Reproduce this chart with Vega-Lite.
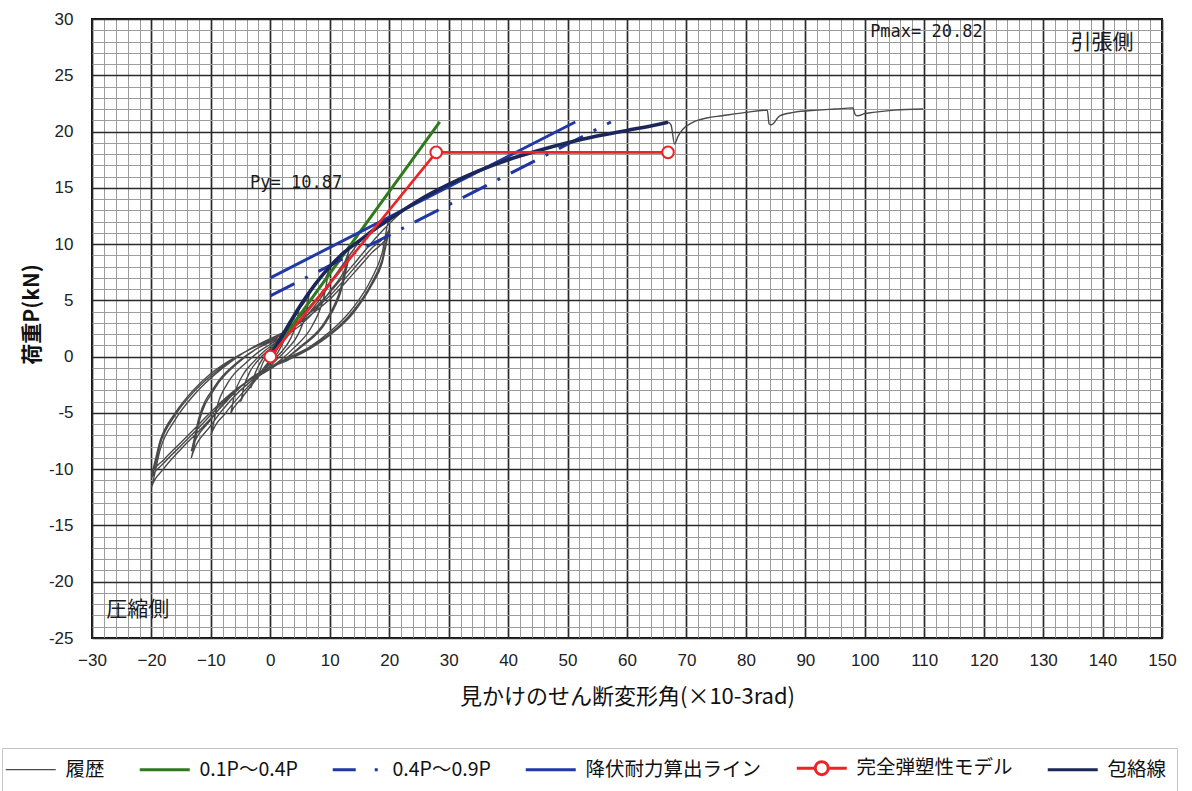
{
  "$schema": "https://vega.github.io/schema/vega-lite/v6.json",
  "autosize": {"type": "none"},
  "width": 1070,
  "height": 619,
  "padding": {"left": 92, "top": 19, "right": 30, "bottom": 153},
  "background": "white",
  "config": {
    "view": {"stroke": "#111", "strokeWidth": 2},
    "font": "Liberation Sans"
  },
  "data": {
    "values": [
      {"s": "履歴", "x": 0, "y": 0}, {"s": "履歴", "x": 1.1, "y": 1.2}, {"s": "履歴", "x": 2.2, "y": 2.3}, {"s": "履歴", "x": 1.6, "y": 1.2}, {"s": "履歴", "x": 0.8, "y": 0.3}, {"s": "履歴", "x": 0, "y": -0.3}, {"s": "履歴", "x": -1.1, "y": -1.0}, {"s": "履歴", "x": -2.2, "y": -2.0}, {"s": "履歴", "x": -1.6, "y": -1.0}, {"s": "履歴", "x": -0.8, "y": -0.1}, {"s": "履歴", "x": 0, "y": 0.4},
      {"s": "履歴", "x": 1.6, "y": 1.7}, {"s": "履歴", "x": 3.3, "y": 3.2}, {"s": "履歴", "x": 2.5, "y": 1.7}, {"s": "履歴", "x": 1.3, "y": 0.4}, {"s": "履歴", "x": 0, "y": -0.4}, {"s": "履歴", "x": -1.6, "y": -1.4}, {"s": "履歴", "x": -3.3, "y": -2.8}, {"s": "履歴", "x": -2.5, "y": -1.4}, {"s": "履歴", "x": -1.3, "y": -0.2}, {"s": "履歴", "x": 0, "y": 0.5},
      {"s": "履歴", "x": 1.3, "y": 1.3}, {"s": "履歴", "x": 2.5, "y": 2.4}, {"s": "履歴", "x": 3.8, "y": 3.5}, {"s": "履歴", "x": 5, "y": 4.6}, {"s": "履歴", "x": 4.4, "y": 3.0}, {"s": "履歴", "x": 3.4, "y": 1.6}, {"s": "履歴", "x": 2, "y": 0.5}, {"s": "履歴", "x": 0.7, "y": -0.2}, {"s": "履歴", "x": 0, "y": -0.6}, {"s": "履歴", "x": -1.3, "y": -1.3}, {"s": "履歴", "x": -2.5, "y": -2.1}, {"s": "履歴", "x": -3.8, "y": -3.0}, {"s": "履歴", "x": -5, "y": -4.0}, {"s": "履歴", "x": -4.4, "y": -2.6}, {"s": "履歴", "x": -3.4, "y": -1.3}, {"s": "履歴", "x": -2, "y": -0.3}, {"s": "履歴", "x": -0.7, "y": 0.4}, {"s": "履歴", "x": 0, "y": 0.7},
      {"s": "履歴", "x": 1.7, "y": 1.6}, {"s": "履歴", "x": 3.4, "y": 2.9}, {"s": "履歴", "x": 5, "y": 4.3}, {"s": "履歴", "x": 6.7, "y": 5.9}, {"s": "履歴", "x": 6, "y": 3.9}, {"s": "履歴", "x": 4.7, "y": 2.0}, {"s": "履歴", "x": 2.7, "y": 0.6}, {"s": "履歴", "x": 1, "y": -0.3}, {"s": "履歴", "x": 0, "y": -0.8}, {"s": "履歴", "x": -1.7, "y": -1.6}, {"s": "履歴", "x": -3.4, "y": -2.7}, {"s": "履歴", "x": -5, "y": -3.8}, {"s": "履歴", "x": -6.7, "y": -5.1}, {"s": "履歴", "x": -6, "y": -3.3}, {"s": "履歴", "x": -4.7, "y": -1.7}, {"s": "履歴", "x": -2.7, "y": -0.4}, {"s": "履歴", "x": -1, "y": 0.5}, {"s": "履歴", "x": 0, "y": 0.9},
      {"s": "履歴", "x": 2.5, "y": 2.0}, {"s": "履歴", "x": 5, "y": 3.6}, {"s": "履歴", "x": 7.5, "y": 5.6}, {"s": "履歴", "x": 10, "y": 8.0}, {"s": "履歴", "x": 9, "y": 5.3}, {"s": "履歴", "x": 7, "y": 2.7}, {"s": "履歴", "x": 4, "y": 0.8}, {"s": "履歴", "x": 1.5, "y": -0.4}, {"s": "履歴", "x": 0, "y": -1.0}, {"s": "履歴", "x": -2.5, "y": -2.0}, {"s": "履歴", "x": -5, "y": -3.4}, {"s": "履歴", "x": -7.5, "y": -5.0}, {"s": "履歴", "x": -10, "y": -7.0}, {"s": "履歴", "x": -9, "y": -4.5}, {"s": "履歴", "x": -7, "y": -2.2}, {"s": "履歴", "x": -4, "y": -0.5}, {"s": "履歴", "x": -1.5, "y": 0.6}, {"s": "履歴", "x": 0, "y": 1.1},
      {"s": "履歴", "x": 3.3, "y": 2.3}, {"s": "履歴", "x": 6.7, "y": 4.0}, {"s": "履歴", "x": 10, "y": 6.4}, {"s": "履歴", "x": 13.3, "y": 9.6}, {"s": "履歴", "x": 12, "y": 6.4}, {"s": "履歴", "x": 9.3, "y": 3.2}, {"s": "履歴", "x": 5.3, "y": 1.0}, {"s": "履歴", "x": 2, "y": -0.4}, {"s": "履歴", "x": 0, "y": -1.1}, {"s": "履歴", "x": -3.3, "y": -2.2}, {"s": "履歴", "x": -6.7, "y": -3.9}, {"s": "履歴", "x": -10, "y": -6.1}, {"s": "履歴", "x": -13.3, "y": -9.0}, {"s": "履歴", "x": -12, "y": -5.8}, {"s": "履歴", "x": -9.3, "y": -2.8}, {"s": "履歴", "x": -5.3, "y": -0.5}, {"s": "履歴", "x": -2, "y": 0.8}, {"s": "履歴", "x": 0, "y": 1.3},
      {"s": "履歴", "x": 3.3, "y": 2.1}, {"s": "履歴", "x": 6.7, "y": 3.6}, {"s": "履歴", "x": 10, "y": 5.8}, {"s": "履歴", "x": 13.3, "y": 8.9}, {"s": "履歴", "x": 12, "y": 6.0}, {"s": "履歴", "x": 9.3, "y": 3.0}, {"s": "履歴", "x": 5.3, "y": 0.9}, {"s": "履歴", "x": 2, "y": -0.4}, {"s": "履歴", "x": 0, "y": -1.1}, {"s": "履歴", "x": -3.3, "y": -2.0}, {"s": "履歴", "x": -6.7, "y": -3.5}, {"s": "履歴", "x": -10, "y": -5.6}, {"s": "履歴", "x": -13.3, "y": -8.4}, {"s": "履歴", "x": -12, "y": -5.4}, {"s": "履歴", "x": -9.3, "y": -2.6}, {"s": "履歴", "x": -5.3, "y": -0.4}, {"s": "履歴", "x": -2, "y": 0.8}, {"s": "履歴", "x": 0, "y": 1.3},
      {"s": "履歴", "x": 3, "y": 2.5}, {"s": "履歴", "x": 6, "y": 4.1}, {"s": "履歴", "x": 10, "y": 6.6}, {"s": "履歴", "x": 13.3, "y": 9.0}, {"s": "履歴", "x": 15, "y": 10.2}, {"s": "履歴", "x": 17.5, "y": 11.3}, {"s": "履歴", "x": 20, "y": 12.2}, {"s": "履歴", "x": 18.8, "y": 9.2}, {"s": "履歴", "x": 17, "y": 6.9}, {"s": "履歴", "x": 14, "y": 4.4}, {"s": "履歴", "x": 10, "y": 2.2}, {"s": "履歴", "x": 6.7, "y": 0.9}, {"s": "履歴", "x": 3, "y": -0.1}, {"s": "履歴", "x": 0, "y": -0.9}, {"s": "履歴", "x": -3, "y": -1.8}, {"s": "履歴", "x": -6, "y": -3.2}, {"s": "履歴", "x": -9, "y": -4.9}, {"s": "履歴", "x": -12, "y": -6.6}, {"s": "履歴", "x": -15, "y": -8.2}, {"s": "履歴", "x": -18, "y": -10.0}, {"s": "履歴", "x": -20, "y": -11.6}, {"s": "履歴", "x": -18.5, "y": -8.2}, {"s": "履歴", "x": -16, "y": -5.6}, {"s": "履歴", "x": -13, "y": -3.5}, {"s": "履歴", "x": -10, "y": -1.9}, {"s": "履歴", "x": -7, "y": -0.6}, {"s": "履歴", "x": -4, "y": 0.5}, {"s": "履歴", "x": -2, "y": 1.1}, {"s": "履歴", "x": 0, "y": 1.6},
      {"s": "履歴", "x": 3, "y": 2.4}, {"s": "履歴", "x": 6, "y": 3.6}, {"s": "履歴", "x": 10, "y": 5.4}, {"s": "履歴", "x": 14, "y": 7.8}, {"s": "履歴", "x": 17, "y": 9.6}, {"s": "履歴", "x": 20, "y": 11.3}, {"s": "履歴", "x": 18.8, "y": 8.6}, {"s": "履歴", "x": 17, "y": 6.5}, {"s": "履歴", "x": 14, "y": 4.1}, {"s": "履歴", "x": 10, "y": 2.0}, {"s": "履歴", "x": 6.7, "y": 0.8}, {"s": "履歴", "x": 3, "y": -0.2}, {"s": "履歴", "x": 0, "y": -1.0}, {"s": "履歴", "x": -3, "y": -1.9}, {"s": "履歴", "x": -6, "y": -3.1}, {"s": "履歴", "x": -9, "y": -4.6}, {"s": "履歴", "x": -12, "y": -6.3}, {"s": "履歴", "x": -15, "y": -7.9}, {"s": "履歴", "x": -18, "y": -9.5}, {"s": "履歴", "x": -20, "y": -10.8}, {"s": "履歴", "x": -18.5, "y": -7.7}, {"s": "履歴", "x": -16, "y": -5.2}, {"s": "履歴", "x": -13, "y": -3.2}, {"s": "履歴", "x": -10, "y": -1.7}, {"s": "履歴", "x": -7, "y": -0.5}, {"s": "履歴", "x": -4, "y": 0.5}, {"s": "履歴", "x": -2, "y": 1.0}, {"s": "履歴", "x": 0, "y": 1.5},
      {"s": "履歴", "x": 3, "y": 2.3}, {"s": "履歴", "x": 6, "y": 3.4}, {"s": "履歴", "x": 10, "y": 5.1}, {"s": "履歴", "x": 14, "y": 7.4}, {"s": "履歴", "x": 17, "y": 9.2}, {"s": "履歴", "x": 20, "y": 11.0}, {"s": "履歴", "x": 18.8, "y": 8.3}, {"s": "履歴", "x": 17, "y": 6.3}, {"s": "履歴", "x": 14, "y": 3.9}, {"s": "履歴", "x": 10, "y": 1.9}, {"s": "履歴", "x": 6.7, "y": 0.7}, {"s": "履歴", "x": 3, "y": -0.3}, {"s": "履歴", "x": 0, "y": -1.0}, {"s": "履歴", "x": -3, "y": -1.9}, {"s": "履歴", "x": -6, "y": -3.0}, {"s": "履歴", "x": -9, "y": -4.4}, {"s": "履歴", "x": -12, "y": -6.0}, {"s": "履歴", "x": -15, "y": -7.6}, {"s": "履歴", "x": -18, "y": -9.2}, {"s": "履歴", "x": -20, "y": -10.4}, {"s": "履歴", "x": -18.5, "y": -7.4}, {"s": "履歴", "x": -16, "y": -5.0}, {"s": "履歴", "x": -13, "y": -3.0}, {"s": "履歴", "x": -10, "y": -1.5}, {"s": "履歴", "x": -7, "y": -0.4}, {"s": "履歴", "x": -4, "y": 0.5}, {"s": "履歴", "x": -2, "y": 1.0}, {"s": "履歴", "x": 0, "y": 1.4},
      {"s": "履歴", "x": 3, "y": 2.3}, {"s": "履歴", "x": 6, "y": 3.6}, {"s": "履歴", "x": 10, "y": 5.7}, {"s": "履歴", "x": 14, "y": 8.2}, {"s": "履歴", "x": 17, "y": 10.1}, {"s": "履歴", "x": 20, "y": 11.8}, {"s": "履歴", "x": 22, "y": 12.8}, {"s": "履歴", "x": 25, "y": 13.9}, {"s": "履歴", "x": 30, "y": 15.3}, {"s": "履歴", "x": 35, "y": 16.5}, {"s": "履歴", "x": 40, "y": 17.5}, {"s": "履歴", "x": 45, "y": 18.3}, {"s": "履歴", "x": 50, "y": 19.0}, {"s": "履歴", "x": 55, "y": 19.6}, {"s": "履歴", "x": 60, "y": 20.1}, {"s": "履歴", "x": 65, "y": 20.6}, {"s": "履歴", "x": 66.9, "y": 20.82}, {"s": "履歴", "x": 67.4, "y": 20.6}, {"s": "履歴", "x": 68.0, "y": 18.9}, {"s": "履歴", "x": 68.6, "y": 19.6}, {"s": "履歴", "x": 69.4, "y": 20.2}, {"s": "履歴", "x": 71, "y": 20.8}, {"s": "履歴", "x": 73.4, "y": 21.2}, {"s": "履歴", "x": 76, "y": 21.4}, {"s": "履歴", "x": 80, "y": 21.7}, {"s": "履歴", "x": 83.6, "y": 21.9}, {"s": "履歴", "x": 83.9, "y": 20.7}, {"s": "履歴", "x": 84.3, "y": 20.6}, {"s": "履歴", "x": 85.7, "y": 21.4}, {"s": "履歴", "x": 88, "y": 21.7}, {"s": "履歴", "x": 92, "y": 21.9}, {"s": "履歴", "x": 95, "y": 22.0}, {"s": "履歴", "x": 98, "y": 22.1}, {"s": "履歴", "x": 98.4, "y": 21.5}, {"s": "履歴", "x": 98.8, "y": 21.4}, {"s": "履歴", "x": 100, "y": 21.6}, {"s": "履歴", "x": 101.4, "y": 21.7}, {"s": "履歴", "x": 105, "y": 21.9}, {"s": "履歴", "x": 109.8, "y": 22.0},
      {"s": "0.1P～0.4P", "x": 0, "y": 0.1}, {"s": "0.1P～0.4P", "x": 28.5, "y": 20.85},
      {"s": "0.4P～0.9P", "x": 0, "y": 5.4}, {"s": "0.4P～0.9P", "x": 57.3, "y": 20.85},
      {"s": "降伏耐力算出ライン", "x": 0, "y": 7.0}, {"s": "降伏耐力算出ライン", "x": 51.3, "y": 20.85},
      {"s": "包絡線", "x": 0, "y": 0}, {"s": "包絡線", "x": 2.5, "y": 2.3}, {"s": "包絡線", "x": 5, "y": 4.5}, {"s": "包絡線", "x": 7.5, "y": 6.4}, {"s": "包絡線", "x": 10, "y": 8.0}, {"s": "包絡線", "x": 12.5, "y": 9.3}, {"s": "包絡線", "x": 15, "y": 10.3}, {"s": "包絡線", "x": 17.5, "y": 11.3}, {"s": "包絡線", "x": 20, "y": 12.2}, {"s": "包絡線", "x": 25, "y": 13.9}, {"s": "包絡線", "x": 30, "y": 15.3}, {"s": "包絡線", "x": 35, "y": 16.5}, {"s": "包絡線", "x": 40, "y": 17.5}, {"s": "包絡線", "x": 45, "y": 18.3}, {"s": "包絡線", "x": 50, "y": 19.0}, {"s": "包絡線", "x": 55, "y": 19.6}, {"s": "包絡線", "x": 60, "y": 20.1}, {"s": "包絡線", "x": 65, "y": 20.6}, {"s": "包絡線", "x": 66.9, "y": 20.82},
      {"s": "完全弾塑性モデル", "x": 0, "y": 0}, {"s": "完全弾塑性モデル", "x": 27.9, "y": 18.15}, {"s": "完全弾塑性モデル", "x": 66.9, "y": 18.15}
    ]
  },
  "encoding": {
    "x": {
      "field": "x", "type": "quantitative",
      "scale": {"domain": [-30, 150], "nice": false, "zero": false},
      "axis": {
        "title": "見かけのせん断変形角(×10-3rad)",
        "titleFont": "Noto Sans CJK JP", "titleFontSize": 22, "titleFontWeight": "normal", "titleColor": "#111", "titlePadding": 18,
        "tickCount": 90, "ticks": false, "domain": false,
        "labelExpr": "datum.value % 10 === 0 ? (datum.value < 0 ? '−' + abs(datum.value) : '' + datum.value) : ''",
        "labelFont": "Liberation Sans", "labelFontSize": 17, "labelColor": "#222", "labelPadding": 14,
        "labelOverlap": false, "labelFlush": false, "labelBound": false,
        "grid": true, "gridOpacity": 1,
        "gridColor": {"condition": {"test": "datum.value % 10 === 0", "value": "#2a2a2a"}, "value": "#9c9c9c"},
        "gridWidth": {"condition": {"test": "datum.value % 10 === 0", "value": 1.7}, "value": 1}
      }
    },
    "y": {
      "field": "y", "type": "quantitative",
      "scale": {"domain": [-25, 30], "nice": false, "zero": false},
      "axis": {
        "title": "荷重P(kN)",
        "titleFont": "Noto Sans CJK JP", "titleFontSize": 21, "titleFontWeight": "bold", "titleColor": "#111", "titlePadding": 6, "titleY": 295,
        "tickCount": 55, "ticks": false, "domain": false,
        "labelExpr": "datum.value % 5 === 0 ? (datum.value < 0 ? '-' + abs(datum.value) : '' + datum.value) : ''",
        "labelFont": "Liberation Sans", "labelFontSize": 17, "labelColor": "#222", "labelPadding": 19,
        "labelOverlap": false, "labelFlush": false, "labelBound": false,
        "grid": true, "gridOpacity": 1,
        "gridColor": {"condition": {"test": "datum.value % 5 === 0", "value": "#2a2a2a"}, "value": "#9c9c9c"},
        "gridWidth": {"condition": {"test": "datum.value % 5 === 0", "value": 1.7}, "value": 1}
      }
    },
    "color": {
      "field": "s", "type": "nominal",
      "scale": {
        "domain": ["履歴", "0.1P～0.4P", "0.4P～0.9P", "降伏耐力算出ライン", "完全弾塑性モデル", "包絡線"],
        "range": ["#4a4a4a", "#2e7a1c", "#1f36a3", "#2139a6", "#ec2327", "#1b2659"]
      },
      "legend": {
        "title": null,
        "orient": "none", "legendX": -90, "legendY": 729, "direction": "horizontal",
        "symbolType": "stroke", "symbolSize": 2500, "symbolStrokeWidth": 3, "symbolOffset": 9,
        "labelFont": "Noto Sans CJK JP", "labelFontSize": 19.5, "labelColor": "#111", "labelOffset": 25, "labelLimit": 400,
        "columnPadding": 28, "padding": 10, "strokeColor": "#c4c4c4", "fillColor": "white",
        "encode": {
          "symbols": {
            "update": {
              "size": {"value": 2500},
              "shape": {"signal": "datum.value === '完全弾塑性モデル' ? 'M-1,0L-0.26,0M0.26,0A0.26,0.26,0,1,1,-0.26,0A0.26,0.26,0,1,1,0.26,0M0.26,0L1,0' : 'stroke'"},
              "strokeDash": {"signal": "datum.value === '0.4P～0.9P' ? [23, 19, 3, 10] : []"},
              "strokeWidth": {"signal": "datum.value === '履歴' ? 1.3 : 3"},
              "fill": {"value": "white"}
            }
          }
        }
      }
    },
    "order": {"value": null}
  },
  "layer": [
    {
      "transform": [{"filter": "datum.s === '履歴'"}],
      "mark": {"type": "line", "strokeWidth": 1.4, "interpolate": "monotone"}
    },
    {
      "transform": [{"filter": "datum.s === '0.1P～0.4P'"}],
      "mark": {"type": "line", "strokeWidth": 3}
    },
    {
      "transform": [{"filter": "datum.s === '0.4P～0.9P'"}],
      "mark": {"type": "line", "strokeWidth": 3, "strokeDash": [27, 12, 3, 12]}
    },
    {
      "transform": [{"filter": "datum.s === '降伏耐力算出ライン'"}],
      "mark": {"type": "line", "strokeWidth": 3}
    },
    {
      "transform": [{"filter": "datum.s === '包絡線'"}],
      "mark": {"type": "line", "strokeWidth": 3.6, "interpolate": "monotone"}
    },
    {
      "transform": [{"filter": "datum.s === '完全弾塑性モデル'"}],
      "mark": {"type": "line", "strokeWidth": 2.6}
    },
    {
      "transform": [{"filter": "datum.s === '完全弾塑性モデル'"}],
      "mark": {"type": "point", "shape": "circle", "size": 135, "fill": "white", "stroke": "#ec2327", "strokeWidth": 2, "opacity": 1, "filled": false},
      "encoding": {"color": {"value": "#ec2327"}}
    },
    {
      "data": {
        "values": [
          {"x": -3.4, "y": 15.4, "t": "Py= 10.87"},
          {"x": 100.9, "y": 28.85, "t": "Pmax= 20.82"}
        ]
      },
      "mark": {"type": "text", "align": "left", "baseline": "middle", "font": "DejaVu Sans Mono", "fontSize": 17},
      "encoding": {
        "text": {"field": "t"},
        "color": {"value": "#1a1a1a"}
      }
    },
    {
      "data": {
        "values": [
          {"x": 134.6, "y": 27.9, "t": "引張側"},
          {"x": -27.6, "y": -22.5, "t": "圧縮側"}
        ]
      },
      "mark": {"type": "text", "align": "left", "baseline": "middle", "font": "Noto Sans CJK JP", "fontSize": 21},
      "encoding": {
        "text": {"field": "t"},
        "color": {"value": "#1a1a1a"}
      }
    }
  ]
}
